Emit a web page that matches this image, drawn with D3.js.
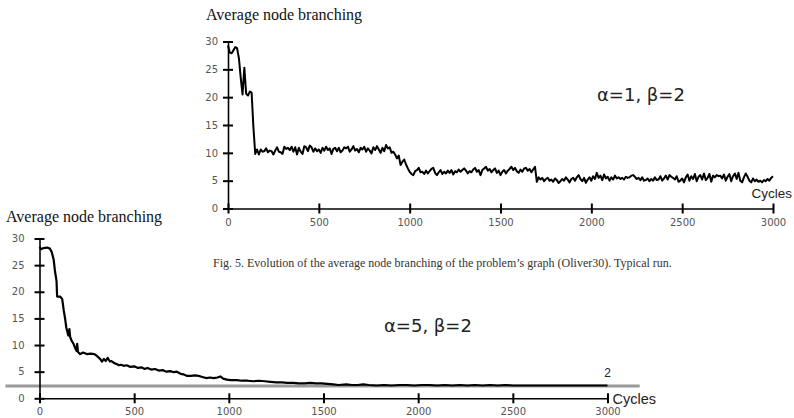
<!DOCTYPE html>
<html lang="en">
<head>
<meta charset="UTF-8">
<title>Average node branching</title>
<script src="https://cdn.jsdelivr.net/npm/d3@7"></script>
<style>
    body { margin: 0; background: white; }
    svg { display: block; }
    .tick text { font-family: "DejaVu Sans", sans-serif; font-size: 10px; fill: #555; }
    .title { font-family: "Liberation Serif", "Times New Roman", serif; font-size: 16px; fill: #111; }
    .caption { font-family: "Liberation Serif", "Times New Roman", serif; font-size: 12px; fill: #333; }
    .cycles { font-family: "Liberation Sans", Arial, sans-serif; fill: #222; }
    .params { font-family: "DejaVu Sans", sans-serif; font-size: 18px; fill: #222; }
</style>
</head>
<body>
<svg id="chart" width="794" height="418"></svg>
<script>
// ---- data ----
const xTicks = [0, 500, 1000, 1500, 2000, 2500, 3000];
const yTicks = [0, 5, 10, 15, 20, 25, 30];

// alpha=1, beta=2 : one value every 10 cycles (0..3000)
const stepTop = 10;
const branchingTop = [
  29.3, 28.0, 27.9, 28.4, 29.0, 28.8, 27.0, 23.5, 20.5, 25.3,
  20.6, 20.3, 21.0, 20.8, 14.5, 9.8, 10.6, 9.7, 10.6, 10.2,
  10.3, 10.8, 10.1, 10.4, 10.3, 9.7, 10.4, 11.0, 10.2, 10.1,
  9.8, 11.1, 10.7, 10.9, 10.5, 11.1, 10.2, 11.0, 9.7, 10.9,
  10.2, 9.8, 11.2, 11.0, 10.3, 11.3, 11.0, 10.2, 10.8, 10.3,
  10.6, 10.0, 10.9, 10.4, 11.1, 10.5, 10.8, 9.8, 10.7, 10.9,
  10.3, 10.9, 10.1, 10.4, 11.0, 10.8, 11.1, 10.2, 10.6, 11.2,
  10.4, 10.7, 10.1, 10.9, 10.6, 11.1, 10.2, 10.8, 10.4, 9.9,
  11.0, 10.5, 11.2, 10.6, 10.0, 10.9, 10.3, 11.4, 10.8, 11.0,
  10.0, 10.2, 9.7, 9.0, 9.5, 7.8, 8.4, 8.8, 7.9, 7.2,
  6.6, 6.2, 6.0, 6.7, 6.9, 7.3, 6.5, 6.6, 6.2, 6.8,
  6.3, 6.7, 7.1, 7.3, 6.4, 6.0, 6.5, 6.9, 6.2, 6.6,
  6.3, 6.8, 6.4, 6.9, 6.1, 6.7, 6.5, 7.0, 6.6, 6.9,
  7.2, 6.8, 6.3, 6.7, 6.5, 7.0, 7.3, 6.6, 6.9, 6.0,
  6.9, 7.2, 7.5, 6.8, 7.1, 6.5, 6.9, 7.2, 6.4, 6.8,
  6.0, 6.6, 6.9, 6.3, 6.8, 7.1, 7.5, 6.9, 7.3, 6.7,
  6.4, 7.0, 6.6, 7.2, 7.3, 6.8, 7.1, 6.5, 7.0, 7.5,
  4.8, 5.6, 5.2, 5.5, 4.9, 5.3, 5.5, 5.0, 5.2, 4.8,
  5.4, 5.1, 4.6, 4.9, 5.3, 5.0, 5.6, 5.2, 4.7, 5.3,
  5.5, 5.0, 5.6, 6.0, 5.3, 4.9, 5.5, 4.6, 5.2, 5.6,
  5.0, 5.8, 5.3, 6.4, 5.5, 5.9, 5.1, 6.1, 5.4, 5.7,
  5.0, 5.6, 5.2, 5.9, 5.4, 5.6, 5.3, 5.5, 5.2, 5.7,
  5.5, 5.6, 5.9, 6.0, 5.7, 5.3, 5.5, 5.1, 5.6, 5.0,
  5.1, 5.4, 4.9, 5.3, 5.0, 5.6, 5.1, 5.2, 5.8, 5.0,
  5.4, 5.9, 5.2, 6.0, 5.7, 5.5, 5.2, 5.8, 4.8, 5.0,
  5.4, 4.7, 5.6, 6.1, 5.0, 5.8, 5.3, 6.2, 4.9, 5.7,
  6.0, 5.2, 6.3, 5.1, 5.5, 6.2, 4.8, 5.9, 5.6, 6.0,
  5.8, 5.9, 5.4, 6.1, 5.0, 5.7, 6.2, 4.9, 5.8, 6.3,
  5.3, 6.4, 5.0, 4.7, 5.6, 6.3, 5.7, 5.0, 4.7, 5.4,
  4.9, 5.2, 4.8, 5.0, 4.7, 5.1, 4.9, 5.3, 5.0, 5.5,
  5.8
];

// alpha=5, beta=2 : [cycle, value]
const branchingBottom = [
  [0, 28.4], [10, 28.0], [20, 28.2], [40, 28.3], [55, 28.1], [65, 27.4], [75, 26.0],
  [82, 23.8], [90, 22.0], [93, 19.1], [110, 19.1], [120, 18.6], [128, 16.5], [135, 15.0],
  [142, 13.2], [148, 12.4], [152, 11.8], [158, 13.0], [162, 11.5], [170, 10.8], [180, 10.2],
  [190, 9.3], [196, 8.9], [199, 10.2], [203, 8.7], [215, 8.3], [230, 8.6], [250, 8.3],
  [270, 8.4], [290, 8.3], [305, 7.9], [320, 7.4], [330, 6.9], [340, 7.4], [350, 7.0],
  [360, 7.6], [372, 6.9], [380, 7.0], [395, 6.6], [410, 6.4], [420, 6.2], [430, 6.3],
  [445, 6.1], [460, 6.2], [480, 5.9], [500, 6.0], [520, 5.7], [540, 5.8], [555, 5.5],
  [570, 5.7], [590, 5.4], [610, 5.5], [630, 5.2], [650, 5.3], [670, 5.0], [690, 5.1],
  [710, 4.9], [725, 5.0], [745, 4.6], [760, 4.5], [780, 4.2], [800, 4.2], [820, 4.3],
  [840, 4.2], [860, 4.0], [880, 3.8], [900, 3.9], [920, 3.8], [940, 3.9], [955, 4.1],
  [970, 3.7], [990, 3.5], [1010, 3.4], [1040, 3.4], [1070, 3.3], [1100, 3.3], [1130, 3.2],
  [1160, 3.3], [1190, 3.2], [1220, 3.1], [1250, 3.0], [1280, 3.0], [1310, 2.9], [1340, 2.9],
  [1370, 2.8], [1400, 2.8], [1430, 2.9], [1460, 2.8], [1490, 2.8], [1520, 2.7], [1550, 2.6],
  [1580, 2.5], [1620, 2.6], [1650, 2.5], [1680, 2.5], [1710, 2.6], [1740, 2.5], [1780, 2.4],
  [1820, 2.5], [1860, 2.4], [1900, 2.5], [1940, 2.5], [1980, 2.4], [2020, 2.5], [2060, 2.5],
  [2100, 2.4], [2140, 2.5], [2180, 2.4], [2220, 2.5], [2260, 2.4], [2300, 2.5], [2340, 2.4],
  [2380, 2.5], [2420, 2.4], [2460, 2.5], [2500, 2.4], [2540, 2.4], [3000, 2.4]
];

// grey reference line of the lower chart
const refValue = 2.3;
const refLabel = "2";
const refExtent = [-180, 3170];

const caption = "Fig. 5. Evolution of the average node branching of the problem\u2019s graph (Oliver30). Typical run.";

// ---- drawing ----
const svg = d3.select('#chart');

function drawPanel(opts) {
    const x = d3.scaleLinear().domain([0, 3000]).range(opts.xRange);
    const y = d3.scaleLinear().domain([0, 30]).range(opts.yRange);
    const g = svg.append('g');

    const xAxis = g.append('g')
        .attr('transform', `translate(0,${opts.yRange[0]})`)
        .call(d3.axisBottom(x).tickValues(xTicks).tickFormat(d3.format('d'))
            .tickSize(4).tickSizeOuter(0).tickPadding(opts.xPad));
    const yAxis = g.append('g')
        .attr('transform', `translate(${opts.xRange[0]},0)`)
        .call(d3.axisLeft(y).tickValues(yTicks).tickFormat(d3.format('d'))
            .tickSize(4).tickSizeOuter(0).tickPadding(opts.yPad));

    // ticks cross the axis line
    xAxis.selectAll('.tick line').attr('y1', -5).attr('y2', 5).attr('stroke', '#000').attr('stroke-width', 2);
    yAxis.selectAll('.tick line').attr('x1', -5).attr('x2', 5).attr('stroke', '#000').attr('stroke-width', 2);
    g.selectAll('.domain').attr('stroke', '#000').attr('stroke-width', 1.6);

    g.append('text').attr('class', 'title')
        .attr('x', opts.titlePos[0]).attr('y', opts.titlePos[1])
        .text('Average node branching');

    return { g, x, y };
}

// upper chart
const upper = drawPanel({ xRange: [228, 773], yRange: [208.5, 41.5], xPad: 6, yPad: 6, titlePos: [206, 20] });
upper.g.append('path')
    .datum(branchingTop)
    .attr('fill', 'none')
    .attr('stroke', '#000')
    .attr('stroke-width', 2)
    .attr('stroke-linejoin', 'round')
    .attr('d', d3.line().x((d, i) => upper.x(i * stepTop)).y(d => upper.y(d)));
upper.g.append('text').attr('class', 'cycles')
    .attr('x', 792).attr('y', 198).attr('text-anchor', 'end')
    .style('font-size', '13.5px').text('Cycles');
upper.g.append('text').attr('class', 'params')
    .attr('x', 597).attr('y', 101).text('\u03b1=1, \u03b2=2');

// caption
svg.append('text').attr('class', 'caption')
    .attr('x', 213).attr('y', 267).text(caption);

// lower chart
const lower = drawPanel({ xRange: [39.5, 607.5], yRange: [398.3, 238.5], xPad: 6, yPad: 11, titlePos: [6, 222] });
lower.g.insert('line', ':first-child')
    .attr('x1', lower.x(refExtent[0])).attr('x2', lower.x(refExtent[1]))
    .attr('y1', lower.y(refValue)).attr('y2', lower.y(refValue))
    .attr('stroke', '#999').attr('stroke-width', 3);
lower.g.append('path')
    .datum(branchingBottom)
    .attr('fill', 'none')
    .attr('stroke', '#000')
    .attr('stroke-width', 2.2)
    .attr('stroke-linejoin', 'round')
    .attr('d', d3.line().x(d => lower.x(d[0])).y(d => lower.y(d[1])));
lower.g.append('text').attr('class', 'cycles')
    .attr('x', lower.x(3000) + 5).attr('y', 404)
    .style('font-size', '14.5px').text('Cycles');
lower.g.append('text').attr('class', 'cycles')
    .attr('x', lower.x(3000)).attr('y', 377).attr('text-anchor', 'middle')
    .style('font-size', '12px').text(refLabel);
lower.g.append('text').attr('class', 'params')
    .attr('x', 384).attr('y', 332).text('\u03b1=5, \u03b2=2');
</script>
</body>
</html>
